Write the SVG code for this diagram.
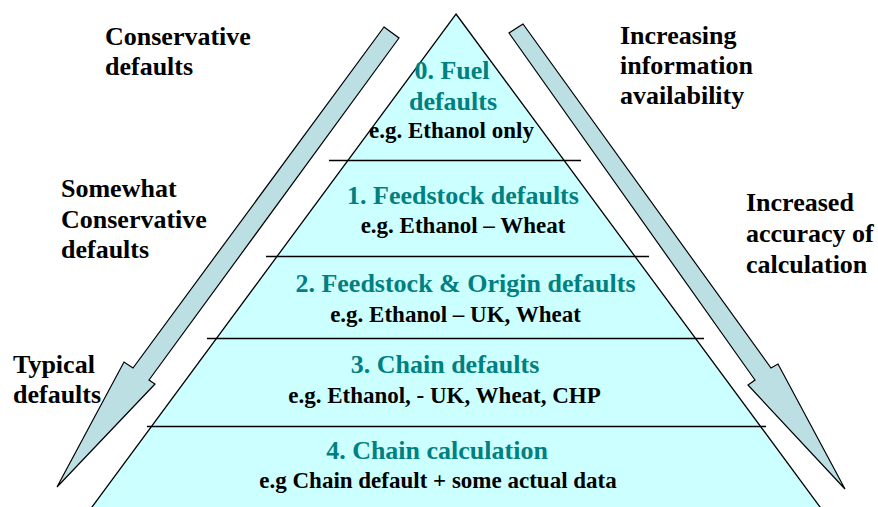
<svg xmlns="http://www.w3.org/2000/svg" width="878" height="507" viewBox="0 0 878 507">
<style>
text{font-family:'Liberation Serif','Times New Roman',Times,'Nimbus Roman','DejaVu Serif',serif;font-weight:bold}
.lbl{font-size:26px;fill:#000}
.tl{font-size:26px;fill:#008080;text-anchor:middle}
.bl{font-size:23px;fill:#000;text-anchor:middle}
.div{stroke:#000;stroke-width:1.3;fill:none}
.arr{fill:#BBDFE3;stroke:#000;stroke-width:1.2;stroke-linejoin:miter}
</style>
<rect width="878" height="507" fill="#fff"/>
<g id="pyramid">
<polygon points="456,14 822.2,510 89.8,510" fill="#CCFFFF" stroke="#000" stroke-width="1.3"/>
</g>
<g id="connectors">
<polygon class="arr" points="384,27 399,38 149,380 155,384 57,487 124,362 133,368"/>
<polygon class="arr" points="523,24 509,33 755,380 748,385 845,489 778,364 771,368"/>
</g>
<g id="dividers">
<line class="div" x1="329" y1="160.5" x2="581" y2="160.5"/>
<line class="div" x1="266" y1="256.5" x2="649" y2="256.5"/>
<line class="div" x1="207" y1="338.5" x2="704" y2="338.5"/>
<line class="div" x1="147" y1="426.5" x2="766" y2="426.5"/>
</g>
<g id="level0">
<text class="tl" x="452" y="79">0. Fuel</text>
<text class="tl" x="453" y="110">defaults</text>
<text class="bl" x="451.5" y="138">e.g. Ethanol only</text>
</g>
<g id="level1">
<text class="tl" x="463" y="204">1. Feedstock defaults</text>
<text class="bl" x="463" y="233">e.g. Ethanol – Wheat</text>
</g>
<g id="level2">
<text class="tl" x="465.5" y="292">2. Feedstock &amp; Origin defaults</text>
<text class="bl" x="455.5" y="322">e.g. Ethanol – UK, Wheat</text>
</g>
<g id="level3">
<text class="tl" x="445" y="373">3. Chain defaults</text>
<text class="bl" x="444.5" y="403">e.g. Ethanol, - UK, Wheat, CHP</text>
</g>
<g id="level4">
<text class="tl" x="437" y="459">4. Chain calculation</text>
<text class="bl" x="438" y="488">e.g Chain default + some actual data</text>
</g>
<g id="label-conservative">
<text class="lbl" x="105" y="45">Conservative</text>
<text class="lbl" x="105" y="75">defaults</text>
</g>
<g id="label-somewhat">
<text class="lbl" x="61" y="197">Somewhat</text>
<text class="lbl" x="61" y="228">Conservative</text>
<text class="lbl" x="61" y="258">defaults</text>
</g>
<g id="label-typical">
<text class="lbl" x="13" y="373">Typical</text>
<text class="lbl" x="13" y="403">defaults</text>
</g>
<g id="label-information">
<text class="lbl" x="620" y="44">Increasing</text>
<text class="lbl" x="620" y="74">information</text>
<text class="lbl" x="620" y="104">availability</text>
</g>
<g id="label-accuracy">
<text class="lbl" x="746" y="211">Increased</text>
<text class="lbl" x="746" y="242">accuracy of</text>
<text class="lbl" x="746" y="273">calculation</text>
</g>
</svg>
